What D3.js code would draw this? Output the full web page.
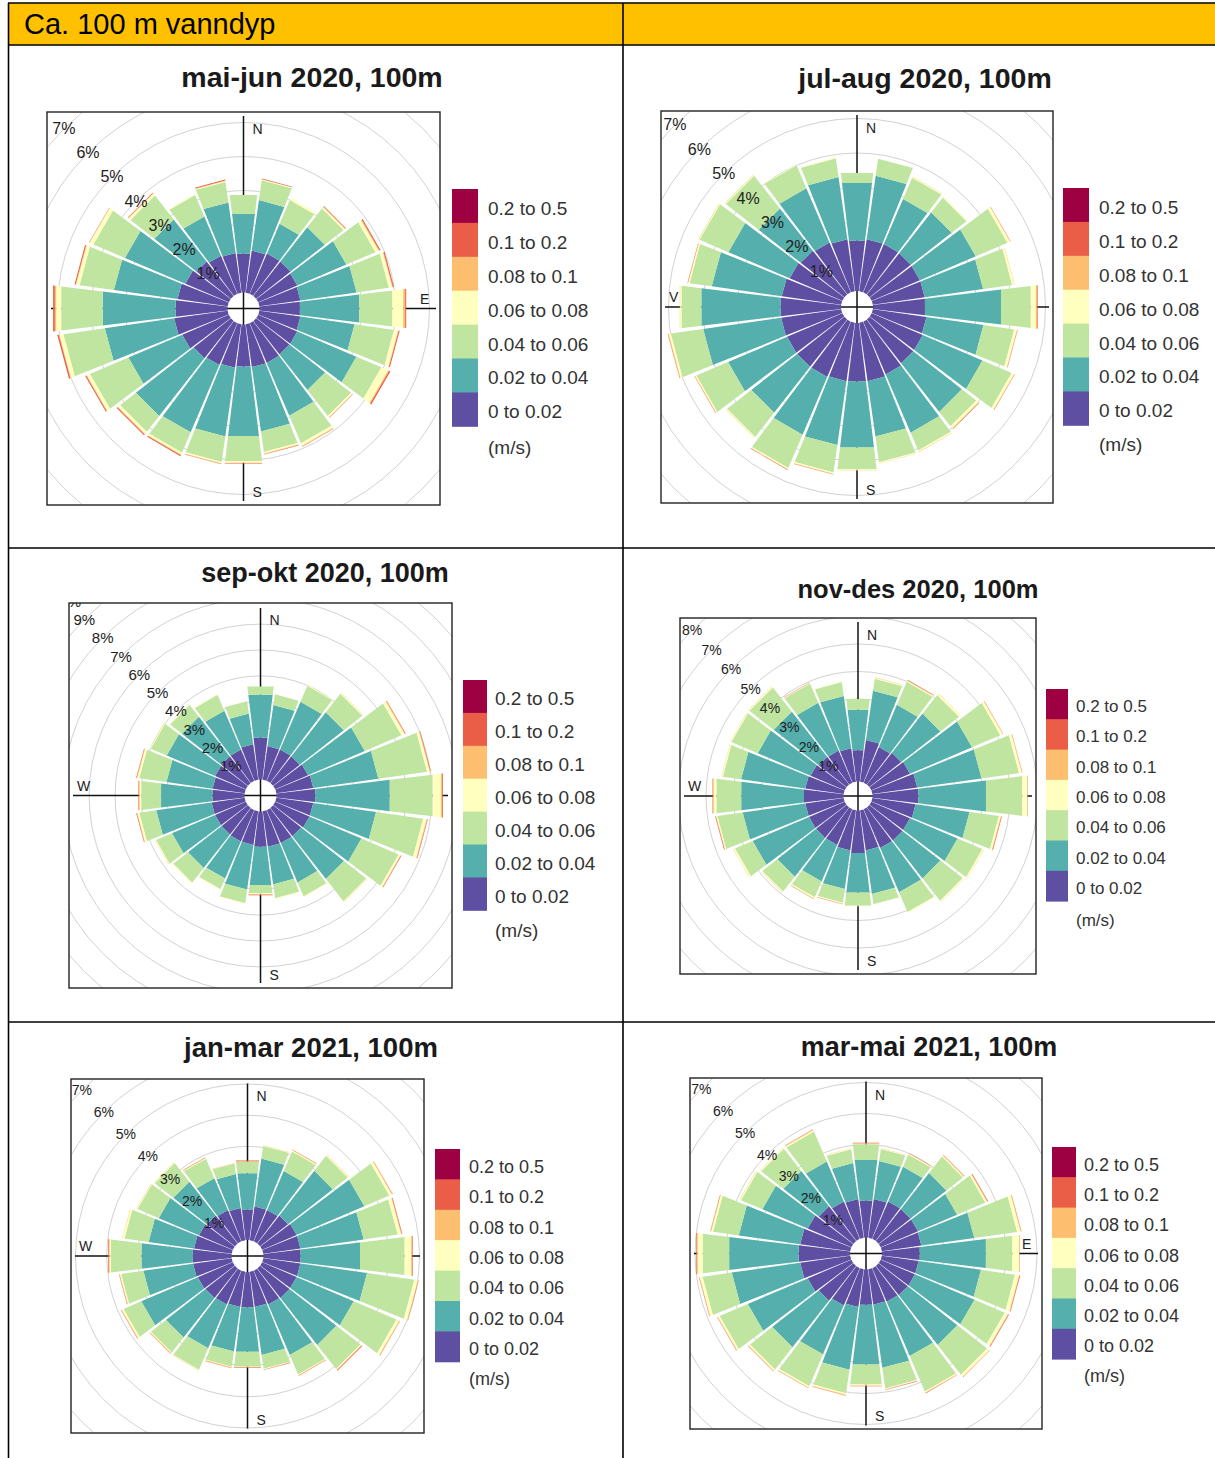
<!DOCTYPE html>
<html>
<head>
<meta charset="utf-8">
<script src="https://cdn.jsdelivr.net/npm/d3@7"></script>
<style>
  body { margin: 0; background: #fff; }
  svg { display: block; }
</style>
</head>
<body>
<svg id="chart" width="1215" height="1458"></svg>
<script>
// ---- Data ---------------------------------------------------------------
// Current direction sectors (degrees, clockwise from north), 15° wide
const directions = d3.range(0, 360, 15);

// Current speed classes (m/s), lowest first
const speedBins = ["0 to 0.02", "0.02 to 0.04", "0.04 to 0.06", "0.06 to 0.08",
                   "0.08 to 0.1", "0.1 to 0.2", "0.2 to 0.5"];
const binColours = ["#5E4FA2", "#55AFAD", "#BFE5A0", "#FFFFBF", "#FDBF6F", "#EA5D47", "#9E0142"];

const periodTitles = ["mai-jun 2020, 100m", "jul-aug 2020, 100m", "sep-okt 2020, 100m",
                      "nov-des 2020, 100m", "jan-mar 2021, 100m", "mar-mai 2021, 100m"];

const zeros = directions.map(() => 0);

// Frequency (% of time) per direction sector, one row per speed class
const maiJun2020 = [
  [1.15,1.25,1.29,1.29,1.25,1.22,1.20,1.22,1.25,1.25,1.27,1.27,1.25,1.29,1.34,1.39,1.49,1.59,1.54,1.49,1.39,1.29,1.22,1.18],
  [1.18,1.50,0.95,1.28,1.57,1.67,1.76,1.61,1.89,1.33,1.69,1.91,2.06,2.04,2.15,2.16,1.72,2.06,2.16,1.89,1.93,1.57,1.25,1.50],
  [0.56,0.59,0.76,0.70,0.93,0.96,0.98,1.17,0.80,0.97,0.88,0.61,0.74,0.76,0.65,0.59,1.23,1.23,1.23,1.02,1.01,0.89,0.69,0.61],
  [0,0.03,0.06,0.05,0.10,0.10,0.32,0.12,0.22,0.05,0.08,0.05,0.05,0.04,0.06,0.08,0.10,0.12,0.15,0.10,0.12,0.08,0.03,0.03],
  [0,0,0,0.02,0.03,0.02,0.06,0.02,0.03,0.01,0.02,0.02,0.01,0.02,0.02,0.02,0.02,0.02,0.04,0.02,0.01,0.01,0,0.01],
  [0,0.02,0,0.02,0.03,0.03,0.03,0.03,0.04,0.01,0.01,0.01,0.01,0.01,0.03,0.03,0.03,0.04,0.05,0.03,0.01,0.02,0,0.03],
  zeros
];
const julAug2020 = [
  [1.47,1.52,1.52,1.52,1.52,1.52,1.52,1.57,1.61,1.61,1.66,1.71,1.71,1.71,1.74,1.74,1.74,1.76,1.76,1.74,1.66,1.61,1.57,1.52],
  [1.69,1.86,1.42,1.50,1.76,1.71,2.22,1.67,1.88,1.79,1.84,1.62,1.93,1.87,1.82,1.69,1.86,2.28,2.32,2.05,1.93,1.55,1.71,1.82],
  [0.29,0.50,0.67,0.55,1.00,0.85,0.87,0.90,0.92,0.53,0.56,0.75,0.63,0.80,1.05,0.89,1.00,0.95,0.58,0.65,0.91,1.21,0.72,0.55],
  [0,0,0.03,0.03,0.08,0.06,0.15,0.08,0.08,0.08,0.04,0.03,0.03,0.04,0.04,0.03,0.04,0.06,0.04,0.04,0.03,0.03,0.02,0.02],
  [0,0,0.01,0,0.01,0.01,0.03,0.01,0.01,0.02,0.01,0.01,0.01,0.01,0.01,0.01,0.01,0.02,0.01,0.01,0.01,0.01,0,0],
  [0,0,0,0,0.01,0,0.02,0.01,0.01,0.01,0,0,0,0.01,0.01,0,0.01,0.01,0,0.01,0,0,0,0],
  zeros
];
const sepOkt2020 = [
  [1.63,1.31,1.31,1.31,1.38,1.44,1.51,1.44,1.44,1.38,1.38,1.38,1.38,1.31,1.31,1.29,1.29,1.29,1.25,1.25,1.29,1.31,1.31,1.38],
  [1.67,1.60,2.01,2.16,2.38,2.54,2.90,2.45,2.18,2.10,1.65,1.47,1.48,1.74,1.56,1.65,1.81,2.16,2.00,1.80,2.03,1.93,1.63,1.20],
  [0.32,0.42,0.67,0.91,1.54,1.90,1.67,1.84,1.56,1.09,0.59,0.54,0.32,0.53,0.45,0.72,0.67,0.66,0.77,1.06,0.67,0.58,0.67,0.48],
  [0,0,0.03,0.04,0.13,0.10,0.32,0.13,0.08,0.04,0.03,0.03,0.03,0.03,0.03,0.04,0.04,0.08,0.06,0.08,0.04,0.04,0.03,0.01],
  [0,0,0,0.01,0.03,0.03,0.05,0.03,0.02,0.01,0,0,0.03,0,0,0,0.01,0.02,0.03,0.02,0.01,0,0,0],
  [0,0,0,0,0.02,0.02,0.03,0.02,0.02,0,0,0,0.02,0,0,0,0,0.02,0.02,0.02,0,0,0,0],
  zeros
];
const novDes2020 = [
  [1.15,1.53,1.41,1.47,1.53,1.65,1.68,1.59,1.53,1.53,1.53,1.47,1.56,1.47,1.41,1.41,1.41,1.41,1.45,1.41,1.35,1.29,1.27,1.23],
  [1.48,1.81,1.67,1.81,2.45,2.36,2.48,1.98,1.88,1.75,1.75,1.60,1.45,1.42,1.44,1.79,2.23,2.30,2.30,2.36,2.09,2.08,1.89,1.92],
  [0.40,0.44,0.91,0.86,1.12,1.38,1.33,1.08,0.98,1.03,0.78,0.38,0.48,0.50,0.63,0.69,0.70,0.93,0.91,0.67,1.04,1.12,0.76,0.51],
  [0,0.04,0.04,0.07,0.10,0.10,0.18,0.07,0.06,0.04,0.04,0.01,0.02,0.04,0.05,0.04,0.06,0.04,0.10,0.05,0.04,0.04,0.02,0.02],
  [0,0.01,0.02,0.01,0.01,0.01,0.01,0.02,0.01,0.01,0,0,0,0.01,0.01,0.01,0.01,0.02,0.02,0.01,0.01,0.01,0.01,0],
  [0,0,0.02,0,0.01,0.01,0.01,0.02,0,0,0,0,0,0.01,0.01,0,0,0.02,0.02,0,0,0,0.01,0],
  zeros
];
const janMar2021 = [
  [0.98,1.09,1.09,1.14,1.20,1.20,1.20,1.20,1.20,1.20,1.18,1.14,1.14,1.14,1.18,1.20,1.22,1.25,1.25,1.22,1.18,1.14,1.09,1.04],
  [1.18,1.55,1.36,1.82,2.36,2.05,1.92,2.16,1.99,1.91,1.76,1.55,1.44,1.44,1.52,1.61,1.97,1.61,1.66,1.47,1.40,1.37,1.11,1.10],
  [0.37,0.41,0.68,0.61,0.87,1.10,1.44,1.53,1.49,0.98,0.68,0.45,0.48,0.49,0.75,0.61,0.62,0.72,0.99,0.78,0.74,0.76,0.68,0.34],
  [0,0.02,0.03,0.04,0.09,0.11,0.21,0.11,0.09,0.03,0.02,0.02,0.02,0.02,0.02,0.03,0.06,0.04,0.04,0.06,0.03,0.03,0.02,0.01],
  [0.02,0.01,0.02,0.01,0.02,0.02,0.03,0.02,0.02,0.02,0.02,0.01,0.01,0.02,0.01,0.02,0.02,0.02,0.03,0.01,0.01,0.01,0.02,0.01],
  [0.02,0,0.01,0,0.01,0.02,0.02,0.01,0.01,0.02,0.01,0.01,0.01,0.01,0,0.01,0.01,0.01,0.02,0,0,0,0.01,0],
  zeros
];
const marMai2021 = [
  [1.20,1.26,1.31,1.31,1.31,1.29,1.23,1.20,1.20,1.20,1.18,1.15,1.15,1.23,1.31,1.42,1.53,1.63,1.67,1.63,1.53,1.42,1.31,1.26],
  [1.32,1.24,1.22,1.47,1.37,1.72,2.15,2.03,2.09,2.03,1.90,2.06,1.94,2.04,1.71,1.91,2.10,2.23,2.26,2.00,1.59,1.45,1.40,1.17],
  [0.51,0.39,0.43,0.68,0.99,1.40,0.86,1.11,1.06,1.22,1.24,0.67,0.65,0.77,1.12,0.91,0.99,0.95,0.86,0.84,0.75,0.91,1.05,0.45],
  [0.02,0.02,0.03,0.04,0.06,0.11,0.22,0.13,0.11,0.09,0.04,0.03,0.03,0.05,0.05,0.06,0.06,0.09,0.16,0.06,0.04,0.04,0.05,0.03],
  [0.02,0.01,0.01,0.02,0.02,0.02,0.01,0.02,0.02,0.01,0.02,0.01,0.02,0.02,0.01,0.01,0.02,0.02,0.03,0.02,0.01,0.01,0.02,0.01],
  [0.01,0,0.01,0.01,0.02,0.01,0.01,0.02,0.02,0.01,0.01,0.01,0.01,0.01,0.01,0.01,0.01,0.01,0.02,0.01,0,0,0.01,0],
  zeros
];
const periodData = [maiJun2020, julAug2020, sepOkt2020, novDes2020, janMar2021, marMai2021];

// Compass labels shown in each panel (those not hidden under the bars)
const compassLabels = [
  {N: "N", E: "E", S: "S"},
  {N: "N", W: "V", S: "S"},
  {N: "N", W: "W", S: "S"},
  {N: "N", W: "W", S: "S"},
  {N: "N", W: "W", S: "S"},
  {N: "N", E: "E", S: "S"}
];

// ---- Layout -------------------------------------------------------------
const layout = [
  {box: [47, 112, 393, 393],  step: 34.0, hole: 16,   pctFont: 16, title: [312, 87, 28.5],
   legend: {x: 452, y: 189, w: 26, h: 33.9, tx: 488, font: 19, unitY: 447}},
  {box: [661, 111, 392, 392], step: 34.5, hole: 16,   pctFont: 16, title: [925, 88, 28.5],
   legend: {x: 1063, y: 188, w: 26, h: 33.9, tx: 1099, font: 19, unitY: 444}},
  {box: [69, 603, 383, 385],  step: 25.9, hole: 16,   pctFont: 15, title: [325, 582, 27],
   legend: {x: 463, y: 680, w: 24, h: 32.9, tx: 495, font: 19, unitY: 930}},
  {box: [680, 618, 356, 356], step: 27.5, hole: 14.5, pctFont: 14, title: [918, 598, 25.5],
   legend: {x: 1046, y: 689, w: 22, h: 30.3, tx: 1076, font: 17, unitY: 920}},
  {box: [71, 1079, 353, 354], step: 31.2, hole: 16,   pctFont: 14, title: [311, 1057, 27.5],
   legend: {x: 435, y: 1149, w: 25, h: 30.4, tx: 469, font: 18, unitY: 1379}},
  {box: [690, 1078, 352, 351], step: 31.0, hole: 16,  pctFont: 14, title: [929, 1056, 27],
   legend: {x: 1052, y: 1147, w: 24, h: 30.3, tx: 1084, font: 18, unitY: 1376}}
];

const FONT = "'Liberation Sans', Arial, Helvetica, sans-serif";
const svg = d3.select("#chart");
const defs = svg.append("defs");

// ---- Table frame --------------------------------------------------------
const frame = svg.append("g");
frame.append("rect").attr("x", 8).attr("y", 3).attr("width", 1212).attr("height", 42)
  .attr("fill", "#FFC000");
frame.append("text").attr("x", 24).attr("y", 34)
  .attr("font-family", FONT).attr("font-size", 29).attr("fill", "#000")
  .text("Ca. 100 m vanndyp");
const hLines = [3, 45, 548, 1022];
frame.selectAll("line.h").data(hLines).join("line").attr("class", "h")
  .attr("x1", 8).attr("x2", 1215).attr("y1", d => d).attr("y2", d => d)
  .attr("stroke", "#000").attr("stroke-width", 1.6);
frame.selectAll("line.v").data([8.5, 623]).join("line").attr("class", "v")
  .attr("x1", d => d).attr("x2", d => d).attr("y1", 3).attr("y2", 1458)
  .attr("stroke", "#000").attr("stroke-width", 1.6);

// ---- One rose per period -----------------------------------------------
const halfWidth = 0.92 * 7.5 * Math.PI / 180;   // each wedge fills most of its sector
const deg = Math.PI / 180;

periodData.forEach((bins, i) => {
  const L = layout[i];
  const [bx, by, bw, bh] = L.box;
  const cx = bx + bw / 2, cy = by + bh / 2;
  const g = svg.append("g");

  // radial scale: frequency (%) -> pixels, starting at the rim of the centre hole
  const r = d3.scaleLinear().domain([0, 1]).range([L.hole, L.hole + L.step]);

  defs.append("clipPath").attr("id", "clip" + i)
    .append("rect").attr("x", bx).attr("y", by).attr("width", bw).attr("height", bh);

  const plot = g.append("g").attr("clip-path", `url(#clip${i})`);
  const centre = plot.append("g").attr("transform", `translate(${cx},${cy})`);

  // grid circles at every whole percent
  const rings = d3.range(1, 13);
  centre.selectAll("circle").data(rings).join("circle")
    .attr("r", d => r(d)).attr("fill", "none")
    .attr("stroke", "#d2d2d2").attr("stroke-width", 1);

  // compass cross
  const arm = bw / 2 - 4;
  centre.append("line").attr("x1", 0).attr("x2", 0).attr("y1", -arm).attr("y2", arm)
    .attr("stroke", "#111").attr("stroke-width", 1.5);
  centre.append("line").attr("x1", -arm).attr("x2", arm).attr("y1", 0).attr("y2", 0)
    .attr("stroke", "#111").attr("stroke-width", 1.5);

  const cl = compassLabels[i];
  const compass = [];
  if (cl.N) compass.push({t: cl.N, x: 9, y: -bh / 2 + 22});
  if (cl.S) compass.push({t: cl.S, x: 9, y: bh / 2 - 8});
  if (cl.E) compass.push({t: cl.E, x: bw / 2 - 20, y: -5});
  if (cl.W) compass.push({t: cl.W, x: -bw / 2 + 8, y: -5});
  centre.selectAll("text.compass").data(compass).join("text").attr("class", "compass")
    .attr("x", d => d.x).attr("y", d => d.y)
    .attr("font-family", FONT).attr("font-size", 14).attr("fill", "#222")
    .text(d => d.t);

  // stacked wedges
  const wedge = d3.lineRadial()
    .angle(d => d[0]).radius(d => r(d[1])).curve(d3.curveLinearClosed);
  const pieces = [];
  directions.forEach((dir, j) => {
    const a = dir * deg;
    let cum = 0;
    bins.forEach((series, k) => {
      const v = series[j];
      if (v > 0) {
        pieces.push({a, lo: cum, hi: cum + v, k});
      }
      cum += v;
    });
  });
  centre.selectAll("path.wedge").data(pieces).join("path").attr("class", "wedge")
    .attr("d", p => wedge([[p.a - halfWidth, p.lo], [p.a + halfWidth, p.lo],
                           [p.a + halfWidth, p.hi], [p.a - halfWidth, p.hi]]))
    .attr("fill", p => binColours[p.k]);

  // percentage labels along the north-west diagonal (only those reaching into the box)
  const diag = d => r(d) * Math.SQRT1_2;
  const shown = rings.filter(d => cy - diag(d) + 5 > by && cx - diag(d) + 10 > bx);
  centre.selectAll("text.pct").data(shown).join("text").attr("class", "pct")
    .attr("x", d => -diag(d)).attr("y", d => -diag(d))
    .attr("text-anchor", "middle").attr("dominant-baseline", "central")
    .attr("font-family", FONT).attr("font-size", L.pctFont).attr("fill", "#222")
    .text(d => d + "%");

  // plot border
  g.append("rect").attr("x", bx).attr("y", by).attr("width", bw).attr("height", bh)
    .attr("fill", "none").attr("stroke", "#222").attr("stroke-width", 1.4);

  // title
  g.append("text").attr("x", L.title[0]).attr("y", L.title[1])
    .attr("text-anchor", "middle").attr("font-family", FONT).attr("font-weight", "bold")
    .attr("font-size", L.title[2]).attr("fill", "#1a1a1a")
    .text(periodTitles[i]);

  // legend: highest speed class on top
  const lg = L.legend;
  const order = d3.range(speedBins.length).reverse();
  const leg = g.append("g");
  leg.selectAll("rect").data(order).join("rect")
    .attr("x", lg.x).attr("y", (d, n) => lg.y + n * lg.h)
    .attr("width", lg.w).attr("height", lg.h + 0.5)
    .attr("fill", d => binColours[d]);
  leg.selectAll("text.lab").data(order).join("text").attr("class", "lab")
    .attr("x", lg.tx).attr("y", (d, n) => lg.y + (n + 0.5) * lg.h + 2.5)
    .attr("dominant-baseline", "central")
    .attr("font-family", FONT).attr("font-size", lg.font).attr("fill", "#333")
    .text(d => speedBins[d]);
  leg.append("text").attr("x", lg.tx).attr("y", lg.unitY)
    .attr("dominant-baseline", "central")
    .attr("font-family", FONT).attr("font-size", lg.font).attr("fill", "#333")
    .text("(m/s)");
});
</script>
</body>
</html>
